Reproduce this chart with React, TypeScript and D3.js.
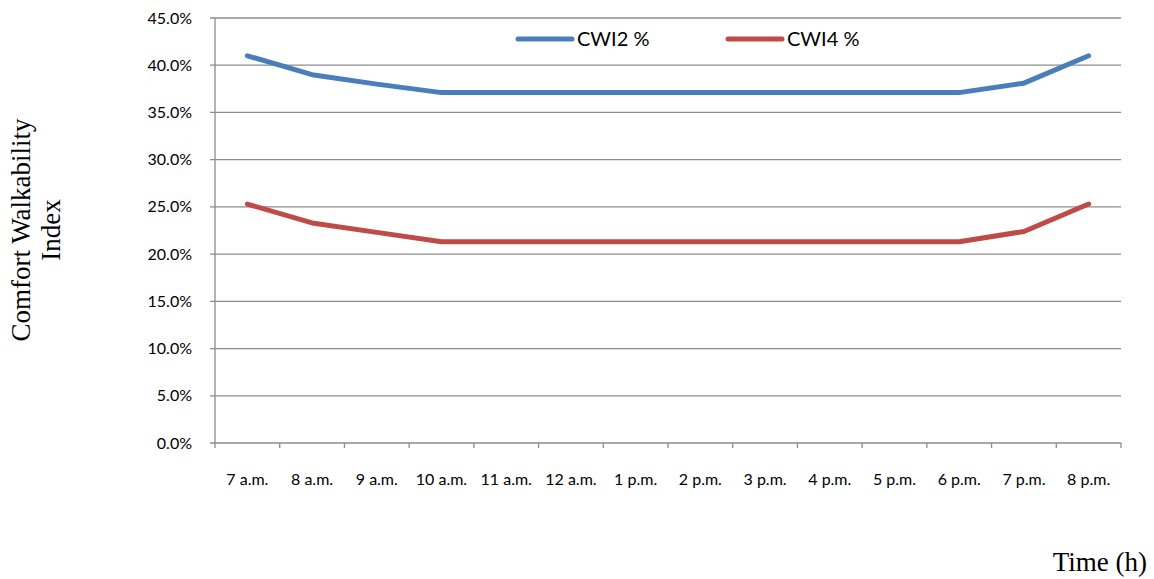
import React from "react";
import * as d3 from "d3";

const categories = ["7 a.m.", "8 a.m.", "9 a.m.", "10 a.m.", "11 a.m.", "12 a.m.", "1 p.m.", "2 p.m.", "3 p.m.", "4 p.m.", "5 p.m.", "6 p.m.", "7 p.m.", "8 p.m."];
const cwi2 = [41.0, 39.0, 38.0, 37.1, 37.1, 37.1, 37.1, 37.1, 37.1, 37.1, 37.1, 37.1, 38.1, 41.0];
const cwi4 = [25.3, 23.3, 22.3, 21.3, 21.3, 21.3, 21.3, 21.3, 21.3, 21.3, 21.3, 21.3, 22.4, 25.3];
const yTicks = [0, 5, 10, 15, 20, 25, 30, 35, 40, 45];
const seriesNames = ["CWI2 %", "CWI4 %"];
const colors = ["#4a7ebb", "#be4b48"];

export default function App() {
  const W = 1154, H = 579;
  const left = 215, right = 1121, top = 18, bottom = 443;
  const x = d3.scaleBand<string>().domain(categories).range([left, right]);
  const y = d3.scaleLinear().domain([0, 45]).range([bottom, top]);
  const line = d3.line<number>().x((_, i) => (x(categories[i]) as number) + x.bandwidth() / 2).y(d => y(d));
  const tickFont = "Lato, 'Open Sans', sans-serif";
  const serif = "'Liberation Serif', 'Times New Roman', serif";
  const series = [cwi2, cwi4];
  const edges = categories.map(c => x(c) as number).concat([right]);
  return (
    <svg width={W} height={H} style={{ position: "absolute", left: 0, top: 0, background: "#fff" }}>
      {yTicks.map(t => (
        <g key={t}>
          <line x1={left - 5} x2={right} y1={y(t)} y2={y(t)} stroke="#8c8c8c" strokeWidth={1.3} />
          <text x={192} y={y(t)} dy="0.35em" textAnchor="end" fontFamily={tickFont} fontSize={16} fill="#000">{t.toFixed(1)}%</text>
        </g>
      ))}
      <line x1={left} x2={left} y1={top} y2={bottom} stroke="#8c8c8c" strokeWidth={1.3} />
      {edges.map((e, i) => (
        <line key={i} x1={e} x2={e} y1={bottom} y2={bottom + 5} stroke="#8c8c8c" strokeWidth={1.3} />
      ))}
      {categories.map(c => (
        <text key={c} x={(x(c) as number) + x.bandwidth() / 2} y={485} textAnchor="middle" fontFamily={tickFont} fontSize={16} fill="#000">{c}</text>
      ))}
      {series.map((s, i) => (
        <path key={i} d={line(s) || ""} fill="none" stroke={colors[i]} strokeWidth={5} strokeLinejoin="round" strokeLinecap="round" />
      ))}
      {seriesNames.map((n, i) => {
        const lx = i === 0 ? 518 : 728;
        return (
          <g key={n}>
            <line x1={lx} x2={lx + 54} y1={39} y2={39} stroke={colors[i]} strokeWidth={5} strokeLinecap="round" />
            <text x={lx + 59} y={39} dy="0.35em" fontFamily={tickFont} fontSize={20} fill="#000">{n}</text>
          </g>
        );
      })}
      <g transform="translate(0,230) rotate(-90)" fontFamily={serif} fontSize={27} fill="#000" textAnchor="middle">
        <text x={0} y={30}>Comfort Walkability</text>
        <text x={0} y={60}>Index</text>
      </g>
      <text x={1147} y={571} textAnchor="end" fontFamily={serif} fontSize={27} fill="#000">Time (h)</text>
    </svg>
  );
}
